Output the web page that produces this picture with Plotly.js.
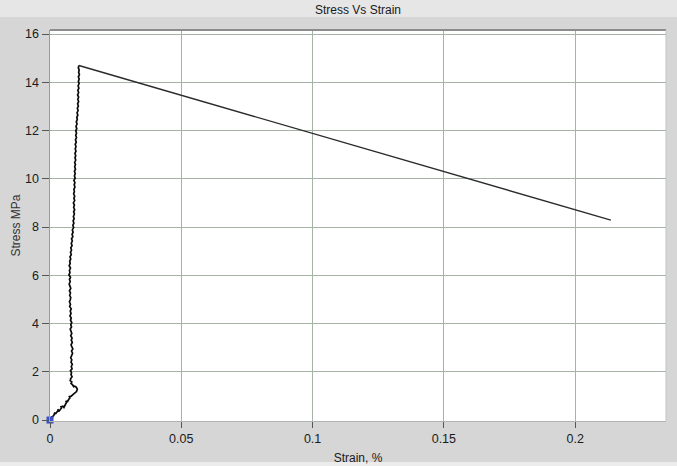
<!DOCTYPE html>
<html>
<head>
<meta charset="utf-8">
<script src="https://cdn.plot.ly/plotly-3.0.1.min.js"></script>
<style>html,body{margin:0;padding:0;background:#d6d6d6;}#chart{width:677px;height:466px;}</style>
</head>
<body>
<div id="chart"></div>
<script>
// Strain (%) values
const strain = [0, .0004, .0009, .0007, .0013, .0018, .0016, .0022, .0027, .0031, .0029, .0035, .0040, .0044, .0042, .0049, .0053, .0058, .0063, .0060,
  .0067, .0071, .0076, .0074, .0081, .0086, .0091, .0095, .0101, .0104, .0100, .0094, .0090, .0086, .0080, .0083, .0077, .0079,
  .0084, .0080, .0082, .0078, .0084, .0081, .0085, .0080, .0083, .0079, .0084, .0086, .0082, .0087, .0083, .0080, .0085, .0081, .0084, .0079,
  .0083, .0080, .0077, .0082, .0079, .0083, .0078, .0081, .0076, .0080, .0077, .0081, .0075, .0078, .0074, .0077, .0079, .0075, .0078, .0074,
  .0079, .0076, .0073, .0077, .0074, .0078, .0072, .0076, .0074, .0078, .0073, .0077, .0075, .0079, .0076, .0081, .0078, .0082, .0079, .0084,
  .0081, .0085, .0082, .0087, .0084, .0088, .0085, .0090, .0087, .0091, .0088, .0092, .0089, .0093, .0090, .0094, .0090, .0093, .0089, .0094,
  .0091, .0094, .0090, .0093, .0091, .0095, .0092, .0095, .0091, .0096, .0093, .0096, .0093, .0097, .0094, .0097, .0094, .0098, .0095, .0098,
  .0095, .0099, .0096, .0099, .0096, .0100, .0097, .0101, .0098, .0101, .0098, .0102, .0099, .0103, .0100, .0104, .0102, .0106, .0103, .0107,
  .0104, .0108, .0105, .0109, .0106, .0109, .0105, .0109, .0106, .0110, .0107, .0111, .0108, .0111, .0108, .0112, .0109, .0111, .0108, .0110,
  .2136];
// Stress (MPa) values
const stress = [0, .04, .10, .13, .17, .26, .30, .27, .33, .40, .44, .38, .45, .50, .55, .57, .52, .64, .74, .79,
  .77, .85, .92, .97, .99, 1.04, 1.08, 1.14, 1.18, 1.28, 1.36, 1.40, 1.38, 1.46, 1.52, 1.58, 1.63, 1.72,
  1.80, 1.88, 1.97, 2.05, 2.12, 2.22, 2.31, 2.40, 2.50, 2.58, 2.68, 2.77, 2.86, 2.95, 3.04, 3.12, 3.22, 3.31, 3.40, 3.50,
  3.59, 3.68, 3.77, 3.86, 3.95, 4.04, 4.14, 4.23, 4.32, 4.42, 4.52, 4.61, 4.70, 4.80, 4.90, 4.99, 5.08, 5.17, 5.27, 5.36,
  5.46, 5.55, 5.64, 5.74, 5.83, 5.92, 6.02, 6.11, 6.20, 6.30, 6.40, 6.49, 6.58, 6.68, 6.77, 6.86, 6.95, 7.05, 7.14, 7.23,
  7.33, 7.42, 7.51, 7.60, 7.70, 7.79, 7.88, 7.98, 8.07, 8.16, 8.26, 8.35, 8.44, 8.54, 8.63, 8.72, 8.82, 8.91, 9.00, 9.10,
  9.19, 9.28, 9.38, 9.47, 9.56, 9.66, 9.75, 9.84, 9.94, 10.03, 10.12, 10.22, 10.31, 10.40, 10.50, 10.59, 10.68, 10.78, 10.87, 10.96,
  11.06, 11.15, 11.24, 11.34, 11.43, 11.52, 11.62, 11.71, 11.80, 11.90, 11.99, 12.08, 12.18, 12.27, 12.36, 12.46, 12.55, 12.64, 12.74, 12.83,
  12.92, 13.02, 13.11, 13.20, 13.30, 13.39, 13.48, 13.58, 13.67, 13.76, 13.86, 13.95, 14.04, 14.14, 14.23, 14.32, 14.42, 14.51, 14.60, 14.70,
  8.29];
// Start marker
const startStrain = [0];
const startStress = [0];

const xTicks = [0, 0.05, 0.1, 0.15, 0.2];
const xTickText = ['0', '0.05', '0.1', '0.15', '0.2'];
const yTicks = [0, 2, 4, 6, 8, 10, 12, 14, 16];

const FONT = 'Liberation Sans, Arial, sans-serif';
const n = strain.length;

const traces = [
  {x: strain.slice(0, n - 1), y: stress.slice(0, n - 1), type: 'scatter', mode: 'lines',
   line: {color: '#0a0a0a', width: 1.7}, hoverinfo: 'skip', showlegend: false},
  {x: strain.slice(n - 2), y: stress.slice(n - 2), type: 'scatter', mode: 'lines',
   line: {color: '#2a2a2a', width: 1.4}, hoverinfo: 'skip', showlegend: false},
  {x: startStrain, y: startStress, type: 'scatter', mode: 'markers',
   marker: {symbol: 'square', size: 7, color: '#3a4fc8', line: {width: 0}}, cliponaxis: false, showlegend: false}
];

const L = 50, R = 11, T = 30, B = 45, W = 677, H = 466;
const pw = W - L - R, ph = H - T - B;
const px2x = p => (p - L) / pw;
const py2y = p => (H - B - p) / ph;

const layout = {
  width: W, height: H,
  margin: {l: L, r: R, t: T, b: B, pad: 0},
  paper_bgcolor: '#d6d6d6',
  plot_bgcolor: '#ffffff',
  font: {family: FONT, size: 12, color: '#1a1a1a'},
  showlegend: false,
  title: {text: 'Stress Vs Strain', font: {family: FONT, size: 12, color: '#1a1a1a'},
          x: 0.5, xref: 'paper', y: 1 - 9.5 / H, yanchor: 'middle'},
  xaxis: {
    range: [0, 0.2346], tickvals: xTicks, ticktext: xTickText,
    showgrid: true, gridcolor: '#a6b2a6', gridwidth: 1,
    zeroline: false, showline: true, linecolor: '#b4b4b4', linewidth: 1,
    ticks: 'outside', ticklen: 6, tickcolor: '#555555', tickwidth: 1,
    tickfont: {family: FONT, size: 12.5, color: '#1a1a1a'},
    title: {text: 'Strain, %', font: {family: FONT, size: 12, color: '#1a1a1a'}, standoff: 8}
  },
  yaxis: {
    range: [-0.04, 16.17], tickvals: yTicks,
    showgrid: true, gridcolor: '#a6b2a6', gridwidth: 1,
    zeroline: false, showline: true, linecolor: '#a88fab', linewidth: 1.5,
    ticks: 'outside', ticklen: 7, tickcolor: '#555555', tickwidth: 1,
    tickfont: {family: FONT, size: 12.5, color: '#1a1a1a'},
    title: {text: 'Stress MPa', font: {family: FONT, size: 12, color: '#333333'}, standoff: 2}
  },
  shapes: [
    // title band
    {type: 'rect', xref: 'paper', yref: 'paper', x0: px2x(0), x1: px2x(W), y0: py2y(17), y1: py2y(0),
     fillcolor: '#e6e6e6', line: {width: 0}, layer: 'below'},
    // top border of plot area
    {type: 'line', xref: 'paper', yref: 'paper', x0: 0, x1: 1, y0: 1, y1: 1,
     line: {color: '#8c8c8c', width: 2}},
    // right border of plot area
    {type: 'line', xref: 'paper', yref: 'paper', x0: 1, x1: 1, y0: 0, y1: 1,
     line: {color: '#c4c4c4', width: 1}},
    // bottom light strip
    {type: 'rect', xref: 'paper', yref: 'paper', x0: px2x(0), x1: px2x(W), y0: py2y(H), y1: py2y(462),
     fillcolor: '#ececec', line: {width: 0}, layer: 'below'}
  ]
};

Plotly.newPlot('chart', traces, layout, {staticPlot: true, displayModeBar: false});
</script>
</body>
</html>
